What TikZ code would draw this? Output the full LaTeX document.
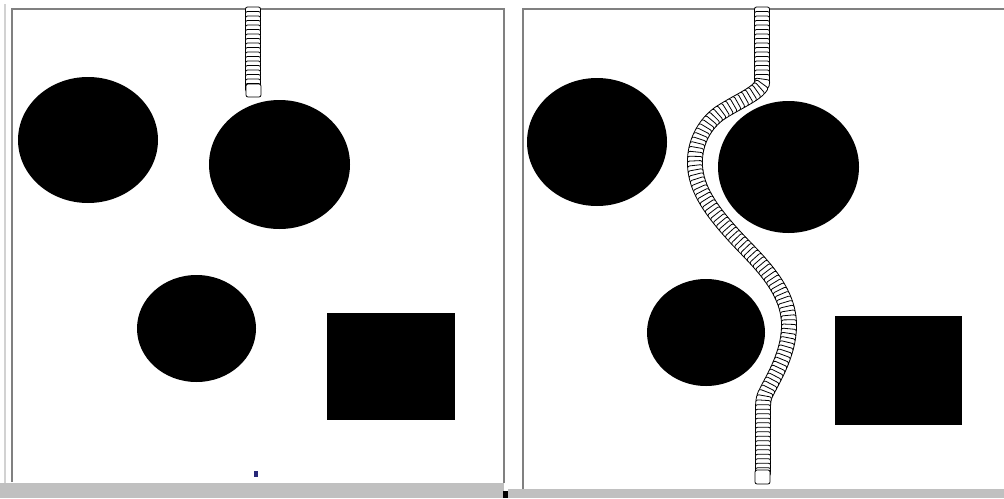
\documentclass[tikz,border=0pt]{standalone}
\usetikzlibrary{decorations.markings}
\definecolor{framegray}{RGB}{128,128,128}
\definecolor{lightframe}{RGB}{210,210,210}
\definecolor{bargray}{RGB}{192,192,192}
\definecolor{dotblue}{RGB}{40,40,120}
\begin{document}
\begin{tikzpicture}[x=1pt,y=-1pt,
  frameline/.style={draw=framegray, line width=2.5pt},
  outerline/.style={draw=lightframe, line width=1.5pt},
  blob/.style={fill=black},
  bar/.style={fill=bargray},
  linkbox/.style={fill=white, draw=black, line width=0.8pt, rounded corners=2pt},
  chainpath/.style={decorate, decoration={markings,
    mark=between positions 0 and 1 step 4.5pt with
    {\filldraw[linkbox] (-4pt,-7.5pt) rectangle (4pt,7.5pt);}}}]
\useasboundingbox (0,0) rectangle (1004,498);
\fill[white] (0,0) rectangle (1004,498);
% bottom bars
\fill[bar] (0,483) rectangle (504,498);
\fill[bar] (508,489) rectangle (1004,498);
\fill[black] (503,491) rectangle (508,498);
% left panel frame
\draw[outerline] (5,4) -- (5,483);
\draw[frameline] (12,482) -- (12,9) -- (504,9) -- (504,483);
% right panel frame
\draw[frameline] (523,489) -- (523,9) -- (1004,9);
% left panel shapes
\fill[blob] (88,140) ellipse [x radius=70, y radius=63];
\fill[blob] (279.5,164.5) ellipse [x radius=70.5, y radius=64.5];
\fill[blob] (196.5,328.5) ellipse [x radius=59.5, y radius=53.5];
\fill[blob] (327,313) rectangle (455,420);
\fill[dotblue] (254,471) rectangle (258,477);
% right panel shapes
\fill[blob] (597,142) ellipse [x radius=70, y radius=64];
\fill[blob] (788.5,167) ellipse [x radius=70.5, y radius=66];
\fill[blob] (706,332.5) ellipse [x radius=59, y radius=53.5];
\fill[blob] (835,316) rectangle (962,425);
% chains
\path[chainpath] (253,11) -- (253,90);
\filldraw[linkbox] (246,84) rectangle (261,97);
\path[chainpath] (762,11) -- (762,82)
  .. controls (762,92) and (740,100) .. (720,113)
  .. controls (703,125) and (694,145) .. (695,165)
  .. controls (696,190) and (712,212) .. (738,240)
  .. controls (760,263) and (789,290) .. (789,325)
  .. controls (789,355) and (772,380) .. (765,395)
  .. controls (763,400) and (763,405) .. (763,412)
  -- (763,476);
\filldraw[linkbox] (755,470) rectangle (770,484);
\end{tikzpicture}
\end{document}
